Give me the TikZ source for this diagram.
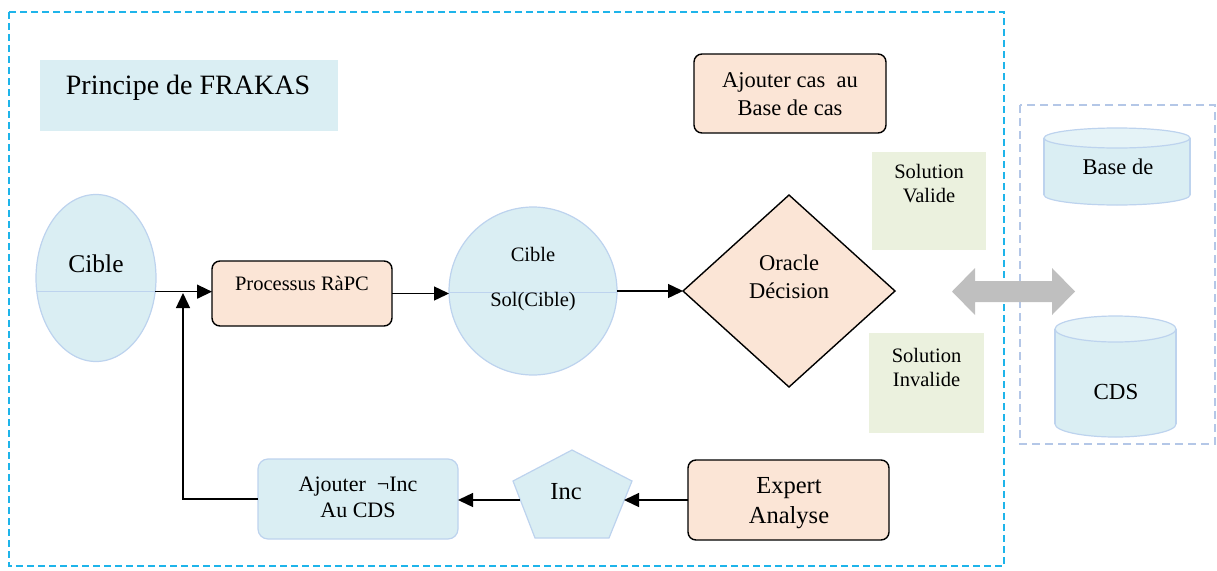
\documentclass[tikz,border=0pt]{standalone}
\usepackage{fontspec}
\setmainfont{Liberation Serif}
\usetikzlibrary{arrows.meta,shapes.geometric}
\definecolor{peach}{HTML}{FBE5D6}
\definecolor{paleblue}{HTML}{DAEEF3}
\definecolor{paleedge}{HTML}{BDD3EE}
\definecolor{palegreen}{HTML}{EBF1DE}
\definecolor{framecyan}{HTML}{1EB4EA}
\definecolor{sideframe}{HTML}{B4C7E7}
\definecolor{biggray}{HTML}{BFBFBF}

\begin{document}
\begin{tikzpicture}[x=1pt,y=-1pt,
  txt/.style={align=center, inner sep=0pt},
  flow/.style={-{Triangle[length=15pt,width=14pt]}, line width=1.4pt},
  peachbox/.style={draw=black, line width=1.4pt, fill=peach, rounded corners=8pt,
    inner sep=0pt, outer sep=0pt},
  bluebox/.style={draw=paleedge, line width=1.2pt, fill=paleblue, rounded corners=10pt,
    inner sep=0pt, outer sep=0pt},
  greenbox/.style={fill=palegreen, inner sep=0pt, outer sep=0pt},
  blueshape/.style={draw=paleedge, line width=1.2pt, fill=paleblue, inner sep=0pt, outer sep=0pt},
  f20/.style={font=\fontsize{20.5}{24}\selectfont},
  f22/.style={font=\fontsize{22.5}{28}\selectfont},
  f24/.style={font=\fontsize{24.5}{30}\selectfont},
]
\useasboundingbox (0,0) rectangle (1217,570);

% frames
\draw[framecyan, line width=1.3pt, dash pattern=on 7pt off 4pt] (9,12) rectangle (1004,566);
\draw[sideframe, line width=1.3pt, dash pattern=on 8pt off 5pt] (1020,105) rectangle (1215,444);

% title
\node[greenbox, fill=paleblue, minimum width=298pt, minimum height=71pt] (title) at (189,95.5) {};
\node[txt, font=\fontsize{28}{32}\selectfont] (titletxt) at (188,88) {Principe de FRAKAS};

% case base update
\node[peachbox, minimum width=192pt, minimum height=79pt] (addcase) at (790,93.5) {};
\node[txt, f22] (addcasetxt) at (790,94) {Ajouter cas\ \ au\\Base de cas};

% outcome labels
\node[greenbox, minimum width=114pt, minimum height=98pt] (valid) at (929,201) {};
\node[txt, f20] (validtxt) at (929,183.5) {Solution\\Valide};
\node[greenbox, minimum width=115pt, minimum height=100pt] (invalid) at (926.5,383) {};
\node[txt, f20] (invalidtxt) at (926.5,367) {Solution\\Invalide};

% stores
\begin{scope}[draw=paleedge, line width=1.2pt]
  % case base cylinder
  \filldraw[fill=paleblue] (1117,195) ellipse [x radius=73, y radius=10];
  \fill[paleblue] (1044,138) rectangle (1190,195);
  \draw (1044,138) -- (1044,195) (1190,138) -- (1190,195);
  \filldraw[fill=paleblue!70!white] (1117,138) ellipse [x radius=73, y radius=10];
  % CDS cylinder
  \filldraw[fill=paleblue] (1115.5,424) ellipse [x radius=60.5, y radius=13];
  \fill[paleblue] (1055,329) rectangle (1176,424);
  \draw (1055,329) -- (1055,424) (1176,329) -- (1176,424);
  \filldraw[fill=paleblue!70!white] (1115.5,329) ellipse [x radius=60.5, y radius=13];
\end{scope}
\node[txt, f22] (basecas) at (1118,167) {Base de};
\node[txt, font=\fontsize{23}{28}\selectfont] (cds) at (1116,392) {CDS};

% exchange arrow
\fill[biggray] (952,291.5) -- (975,268) -- (975,281) -- (1052,281) -- (1052,268)
  -- (1075,291.5) -- (1052,315) -- (1052,302) -- (975,302) -- (975,315) -- cycle;

% main flow
\node[blueshape, ellipse, minimum width=120pt, minimum height=167pt] (cible) at (96,278) {};
\draw[paleedge, line width=1.2pt] (cible.193) -- (cible.-13);
\node[txt, font=\fontsize{25.5}{30}\selectfont] (cibletxt) at (96,264) {Cible};

\node[peachbox, minimum width=180pt, minimum height=65pt] (proc) at (302,293.5) {};
\node[txt, f20] (proctxt) at (302,283) {Processus RàPC};

\node[blueshape, circle, minimum size=168pt] (sol) at (533,291) {};
\draw[paleedge, line width=1.2pt] (sol.181) -- (sol.-1);
\node[txt, f20] (soltop) at (533,254) {Cible};
\node[txt, f20] (solbot) at (533,302) {Sol(Cible)};

\node[diamond, draw=black, line width=1.4pt, fill=peach, minimum width=212pt,
  minimum height=192pt, aspect=1.1, inner sep=0pt, outer sep=0pt] (oracle) at (789,291) {};
\node[txt, f22] (oracletxt) at (789,276.5) {Oracle\\Décision};

% feedback row
\node[peachbox, minimum width=201pt, minimum height=80pt] (expert) at (788.5,500) {};
\node[txt, f24] (experttxt) at (789,503) {Expert\\Analyse};

\filldraw[draw=paleedge, line width=1.2pt, fill=paleblue]
  (572,450) -- (632,481) -- (609,538) -- (535,538) -- (513,481) -- cycle;
\node[txt, f24] (inc) at (566,492) {Inc};
\coordinate (incright) at (624,500);
\coordinate (incleft) at (520,500);

\node[bluebox, minimum width=200pt, minimum height=80pt] (addinc) at (358,499) {};
\node[txt, font=\fontsize{22}{26}\selectfont] (addinctxt) at (358,497) {Ajouter\ \ ¬Inc\\Au CDS};

\coordinate (join) at (183,293);

% connectors
\draw[flow] (cible.-13) -- (cible.-13 -| proc.west);
\draw[flow] (proc.east) -- (proc.east -| sol.west);
\draw[flow] (sol.east) -- (oracle.west);
\draw[flow] (expert.west) -- (incright);
\draw[flow] (incleft) -- (incleft -| addinc.east);
\draw[flow] (addinc.west) -| (join);
\end{tikzpicture}
\end{document}
